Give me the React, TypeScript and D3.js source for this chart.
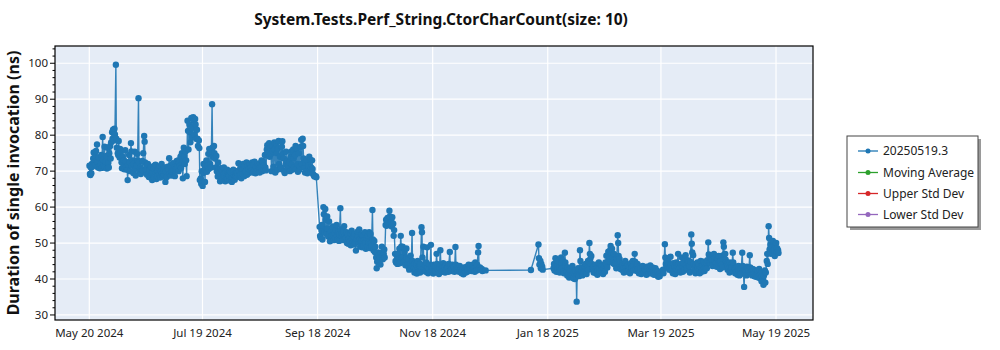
import React from "react";
import * as d3 from "d3";

const chartTitle = "System.Tests.Perf_String.CtorCharCount(size: 10)";
const yAxisLabel = "Duration of single invocation (ns)";
const legendLabels = ["20250519.3", "Moving Average", "Upper Std Dev", "Lower Std Dev"];
const legendColors = ["#1f77b4", "#2ca02c", "#d62728", "#9467bd"];
const xTickDates = ["2024-05-20", "2024-07-19", "2024-09-18", "2024-11-18", "2025-01-18", "2025-03-19", "2025-05-19"];
const yTickValues = [30, 40, 50, 60, 70, 80, 90, 100];
const yLimits = [28.6, 104.8];

// each entry: run date, durations (ns) of the runs recorded that day
const runs: [string, number[]][] = [
  ["2024-05-20", [71.5, 69.2, 68.9, 71.0]],
  ["2024-05-21", [69.4, 72.0, 71.2]],
  ["2024-05-22", [73.5, 75.2, 72.4]],
  ["2024-05-23", [74.0, 71.8, 75.6, 73.0]],
  ["2024-05-24", [77.4, 72.5, 71.0]],
  ["2024-05-25", [73.8, 71.2, 70.8]],
  ["2024-05-26", [72.0, 74.5, 70.9]],
  ["2024-05-27", [79.5, 73.2, 71.4]],
  ["2024-05-28", [76.8, 71.0, 72.6]],
  ["2024-05-29", [74.2, 70.7, 76.5]],
  ["2024-05-30", [72.3, 71.0, 75.0]],
  ["2024-05-31", [77.0, 73.5, 78.0]],
  ["2024-06-01", [80.8, 79.0, 81.5]],
  ["2024-06-02", [78.5, 81.8, 80.2]],
  ["2024-06-03", [99.6, 79.0, 76.5]],
  ["2024-06-04", [75.0, 74.5, 78.4]],
  ["2024-06-05", [73.8, 76.2, 75.0]],
  ["2024-06-06", [72.5, 70.8, 74.0]],
  ["2024-06-07", [71.0, 73.0, 70.5]],
  ["2024-06-08", [75.8, 72.6, 71.2]],
  ["2024-06-09", [70.4, 67.5, 71.8]],
  ["2024-06-10", [74.5, 72.4, 70.0]],
  ["2024-06-11", [77.8, 75.5, 71.5]],
  ["2024-06-12", [73.0, 69.5, 72.0]],
  ["2024-06-13", [75.4, 70.7, 68.8]],
  ["2024-06-14", [71.5, 74.8, 73.0]],
  ["2024-06-15", [90.3, 72.5, 70.0]],
  ["2024-06-16", [71.0, 69.2, 70.5]],
  ["2024-06-17", [72.8, 70.2, 75.0]],
  ["2024-06-18", [79.8, 78.2, 72.4]],
  ["2024-06-19", [70.4, 71.5, 69.0]],
  ["2024-06-20", [72.0, 69.3, 68.4]],
  ["2024-06-21", [70.5, 68.2, 71.2]],
  ["2024-06-22", [69.5, 67.5, 70.0]],
  ["2024-06-23", [70.8, 68.0, 71.5]],
  ["2024-06-24", [71.8, 69.4, 67.8]],
  ["2024-06-25", [68.6, 70.2, 71.0]],
  ["2024-06-26", [69.0, 71.4, 68.2]],
  ["2024-06-27", [70.0, 72.0, 69.5]],
  ["2024-06-28", [68.5, 70.6, 69.0]],
  ["2024-06-29", [71.0, 67.0, 69.8]],
  ["2024-06-30", [68.4, 70.0, 71.2]],
  ["2024-07-01", [70.5, 73.6, 69.2]],
  ["2024-07-02", [71.5, 68.8, 70.0]],
  ["2024-07-03", [69.8, 72.2, 70.4]],
  ["2024-07-04", [71.0, 68.6, 70.2]],
  ["2024-07-05", [70.6, 72.8, 71.2]],
  ["2024-07-06", [73.0, 70.0, 72.4]],
  ["2024-07-07", [71.5, 74.0, 70.8]],
  ["2024-07-08", [75.0, 72.5, 68.0]],
  ["2024-07-09", [76.5, 74.2, 72.0]],
  ["2024-07-10", [75.5, 73.0, 68.6]],
  ["2024-07-11", [84.0, 81.2, 76.0]],
  ["2024-07-12", [83.0, 80.8, 78.0]],
  ["2024-07-13", [84.8, 82.0, 79.5]],
  ["2024-07-14", [85.0, 84.2, 80.2]],
  ["2024-07-15", [84.5, 83.0, 79.0]],
  ["2024-07-16", [81.5, 79.0, 77.0]],
  ["2024-07-17", [78.5, 76.4, 67.5]],
  ["2024-07-18", [68.0, 66.5, 70.0]],
  ["2024-07-19", [65.9, 69.5, 72.0]],
  ["2024-07-20", [70.5, 67.0, 71.8]],
  ["2024-07-21", [73.0, 69.8, 71.5]],
  ["2024-07-22", [74.8, 70.6, 76.2]],
  ["2024-07-23", [72.0, 75.5, 71.0]],
  ["2024-07-24", [88.6, 76.5, 74.0]],
  ["2024-07-25", [77.0, 75.0, 73.5]],
  ["2024-07-26", [71.0, 74.2, 70.0]],
  ["2024-07-27", [68.5, 72.4, 70.6]],
  ["2024-07-28", [69.5, 67.2, 70.8]],
  ["2024-07-29", [68.0, 70.2, 67.5]],
  ["2024-07-30", [69.0, 71.0, 68.4]],
  ["2024-07-31", [67.2, 69.5, 68.0]],
  ["2024-08-01", [70.4, 68.0, 69.2]],
  ["2024-08-02", [68.8, 67.4, 70.0]],
  ["2024-08-03", [69.6, 68.0, 67.0]],
  ["2024-08-04", [68.2, 70.4, 69.0]],
  ["2024-08-05", [67.6, 69.0, 68.5]],
  ["2024-08-06", [70.0, 68.4, 69.5]],
  ["2024-08-07", [72.2, 70.2, 68.6]],
  ["2024-08-08", [69.0, 71.0, 68.0]],
  ["2024-08-09", [70.4, 69.2, 72.0]],
  ["2024-08-10", [68.6, 71.2, 69.8]],
  ["2024-08-11", [70.0, 72.4, 69.0]],
  ["2024-08-12", [71.5, 69.4, 70.6]],
  ["2024-08-13", [72.0, 69.8, 71.0]],
  ["2024-08-14", [70.2, 72.4, 69.6]],
  ["2024-08-15", [71.8, 70.0, 72.6]],
  ["2024-08-16", [69.4, 71.2, 70.0]],
  ["2024-08-17", [72.0, 70.4, 71.5]],
  ["2024-08-18", [70.8, 69.6, 72.2]],
  ["2024-08-19", [71.0, 73.0, 70.0]],
  ["2024-08-20", [72.5, 70.5, 71.6]],
  ["2024-08-21", [74.5, 71.0, 70.2]],
  ["2024-08-22", [76.0, 77.2, 75.0]],
  ["2024-08-23", [75.2, 77.8, 74.0]],
  ["2024-08-24", [76.4, 74.8, 70.0]],
  ["2024-08-25", [77.0, 75.5, 71.2]],
  ["2024-08-26", [78.0, 76.0, 69.6]],
  ["2024-08-27", [77.5, 75.0, 70.4]],
  ["2024-08-28", [76.2, 78.4, 72.0]],
  ["2024-08-29", [74.0, 70.6, 71.0]],
  ["2024-08-30", [76.8, 78.3, 75.0]],
  ["2024-08-31", [73.5, 70.0, 69.5]],
  ["2024-09-01", [72.0, 75.4, 70.2]],
  ["2024-09-02", [73.0, 70.8, 71.5]],
  ["2024-09-03", [72.4, 70.0, 74.0]],
  ["2024-09-04", [75.5, 71.8, 70.4]],
  ["2024-09-05", [76.0, 73.5, 71.0]],
  ["2024-09-06", [74.5, 77.0, 70.6]],
  ["2024-09-07", [76.2, 72.0, 69.8]],
  ["2024-09-08", [75.0, 70.4, 71.2]],
  ["2024-09-09", [76.8, 78.7, 72.0]],
  ["2024-09-10", [79.0, 77.0, 73.5]],
  ["2024-09-11", [71.0, 69.6, 72.4]],
  ["2024-09-12", [70.0, 73.0, 69.4]],
  ["2024-09-13", [71.6, 69.8, 74.0]],
  ["2024-09-14", [73.2, 70.0, 71.0]],
  ["2024-09-15", [73.0, 70.6, 69.2]],
  ["2024-09-16", [68.8, 68.5]],
  ["2024-09-17", [68.6, 68.3]],
  ["2024-09-19", [54.5, 52.0, 51.5]],
  ["2024-09-20", [53.5, 55.0, 51.0]],
  ["2024-09-21", [60.0, 58.0, 53.0]],
  ["2024-09-22", [59.5, 56.5, 52.5, 54.0]],
  ["2024-09-23", [57.4, 54.0, 51.8]],
  ["2024-09-24", [56.0, 52.6, 50.5]],
  ["2024-09-25", [53.2, 51.0, 52.0]],
  ["2024-09-26", [54.6, 52.2, 50.8]],
  ["2024-09-27", [52.8, 51.4, 53.6]],
  ["2024-09-28", [55.0, 52.0, 51.0]],
  ["2024-09-29", [53.0, 50.6, 52.4]],
  ["2024-09-30", [59.7, 53.8, 52.0]],
  ["2024-10-01", [52.6, 50.8, 53.2]],
  ["2024-10-02", [54.7, 52.0, 51.2]],
  ["2024-10-03", [51.5, 53.0, 50.0]],
  ["2024-10-04", [52.4, 49.8, 51.0]],
  ["2024-10-05", [50.5, 52.8, 49.4]],
  ["2024-10-06", [53.4, 51.0, 50.2]],
  ["2024-10-07", [51.8, 49.6, 52.5]],
  ["2024-10-08", [50.0, 47.9, 51.2]],
  ["2024-10-09", [52.0, 53.2, 50.4]],
  ["2024-10-10", [53.8, 51.0, 49.0]],
  ["2024-10-11", [50.6, 52.4, 48.8]],
  ["2024-10-12", [52.0, 49.2, 50.8]],
  ["2024-10-13", [53.0, 50.0, 48.4]],
  ["2024-10-14", [51.4, 49.0, 52.0]],
  ["2024-10-15", [50.2, 53.0, 48.6]],
  ["2024-10-16", [52.5, 50.0, 49.2]],
  ["2024-10-17", [59.2, 51.0, 48.0]],
  ["2024-10-18", [50.6, 47.5, 49.0]],
  ["2024-10-19", [46.0, 43.0, 44.8]],
  ["2024-10-20", [47.4, 45.2, 46.6]],
  ["2024-10-21", [46.0, 44.0, 47.2]],
  ["2024-10-22", [49.0, 46.6, 45.5]],
  ["2024-10-23", [47.0, 48.2, 46.0]],
  ["2024-10-24", [55.0, 56.5, 54.8]],
  ["2024-10-25", [57.0, 55.5, 56.2]],
  ["2024-10-26", [59.0, 57.4, 55.8]],
  ["2024-10-27", [56.0, 54.6, 57.2]],
  ["2024-10-28", [55.4, 52.0, 53.6]],
  ["2024-10-29", [47.0, 45.0, 44.6]],
  ["2024-10-30", [46.4, 44.2, 47.0]],
  ["2024-10-31", [45.6, 48.4, 44.4]],
  ["2024-11-01", [52.0, 49.0, 46.0]],
  ["2024-11-02", [49.0, 46.2, 44.6]],
  ["2024-11-03", [47.5, 45.0, 43.8]],
  ["2024-11-04", [48.5, 46.0, 44.0]],
  ["2024-11-05", [45.5, 43.2, 42.6]],
  ["2024-11-06", [44.2, 46.5, 43.0]],
  ["2024-11-07", [52.8, 45.0, 43.6]],
  ["2024-11-08", [43.0, 41.8, 44.4]],
  ["2024-11-09", [42.6, 44.0, 41.5]],
  ["2024-11-10", [45.0, 43.0, 42.2]],
  ["2024-11-11", [43.6, 41.8, 44.2]],
  ["2024-11-12", [54.4, 53.0, 46.0]],
  ["2024-11-13", [49.0, 43.0, 42.4]],
  ["2024-11-14", [43.8, 42.0, 44.6]],
  ["2024-11-15", [48.8, 43.2, 41.6]],
  ["2024-11-16", [42.8, 44.0, 42.0]],
  ["2024-11-17", [49.5, 43.4, 42.2]],
  ["2024-11-18", [43.0, 41.5, 44.0]],
  ["2024-11-19", [42.4, 43.6, 42.0]],
  ["2024-11-20", [47.0, 44.2, 43.0]],
  ["2024-11-21", [42.6, 41.4, 43.2]],
  ["2024-11-22", [48.0, 44.0, 42.4]],
  ["2024-11-23", [43.6, 42.0, 44.4]],
  ["2024-11-24", [42.2, 43.4, 41.8]],
  ["2024-11-25", [44.0, 42.6, 43.0]],
  ["2024-11-26", [43.2, 42.0, 44.2]],
  ["2024-11-27", [47.5, 43.6, 42.4]],
  ["2024-11-28", [43.0, 42.2, 44.0]],
  ["2024-11-29", [42.6, 43.4, 42.0]],
  ["2024-11-30", [48.9, 44.0, 42.8]],
  ["2024-12-01", [43.4, 42.2, 43.0]],
  ["2024-12-02", [42.0, 43.6, 42.6]],
  ["2024-12-03", [43.0, 41.6, 42.4]],
  ["2024-12-04", [42.8, 41.3, 43.2]],
  ["2024-12-05", [42.2, 43.0, 41.8]],
  ["2024-12-06", [43.4, 42.0, 42.6]],
  ["2024-12-07", [44.0, 42.4, 43.0]],
  ["2024-12-08", [42.6, 43.8, 42.2]],
  ["2024-12-09", [44.0, 42.8, 43.4]],
  ["2024-12-10", [43.0, 42.0, 44.6]],
  ["2024-12-11", [43.0, 42.4, 44.0]],
  ["2024-12-12", [47.4, 49.2, 43.0]],
  ["2024-12-13", [43.2, 42.6]],
  ["2024-12-14", [42.8, 42.2]],
  ["2024-12-16", [42.4]],
  ["2025-01-09", [42.5]],
  ["2025-01-13", [49.6, 45.8, 44.0]],
  ["2025-01-14", [45.0, 43.0, 44.2]],
  ["2025-01-15", [43.4, 42.6]],
  ["2025-01-21", [43.0, 44.2, 42.4]],
  ["2025-01-22", [45.8, 43.6, 42.0]],
  ["2025-01-23", [44.0, 42.8, 45.0]],
  ["2025-01-24", [43.2, 41.8, 42.6]],
  ["2025-01-25", [46.0, 44.4, 43.0]],
  ["2025-01-26", [45.0, 42.2, 41.6]],
  ["2025-01-27", [47.3, 44.6, 43.4]],
  ["2025-01-28", [42.0, 41.0, 43.2]],
  ["2025-01-29", [41.4, 40.4, 42.6]],
  ["2025-01-30", [42.2, 40.8, 41.2]],
  ["2025-01-31", [43.6, 41.0, 40.2]],
  ["2025-02-01", [41.6, 40.0, 42.4]],
  ["2025-02-02", [40.6, 33.7, 41.4]],
  ["2025-02-03", [43.0, 41.2, 40.8]],
  ["2025-02-04", [48.0, 45.0, 42.0]],
  ["2025-02-05", [42.4, 41.0, 43.2]],
  ["2025-02-06", [41.8, 43.6, 42.2]],
  ["2025-02-07", [44.2, 42.0, 41.4]],
  ["2025-02-08", [43.0, 45.0, 42.6]],
  ["2025-02-09", [50.0, 47.0, 45.6]],
  ["2025-02-10", [46.4, 44.2, 42.8]],
  ["2025-02-11", [43.4, 41.8, 42.6]],
  ["2025-02-12", [42.2, 44.0, 41.6]],
  ["2025-02-13", [43.0, 41.2, 42.4]],
  ["2025-02-14", [44.6, 42.8, 41.8]],
  ["2025-02-15", [44.0, 42.2, 43.6]],
  ["2025-02-16", [42.6, 41.4, 43.0]],
  ["2025-02-17", [43.8, 42.0, 44.6]],
  ["2025-02-18", [46.5, 44.0, 43.2]],
  ["2025-02-19", [47.6, 45.0, 46.2]],
  ["2025-02-20", [48.0, 49.2, 46.6]],
  ["2025-02-21", [48.4, 46.0, 44.4]],
  ["2025-02-22", [47.0, 45.2, 44.0]],
  ["2025-02-23", [44.6, 43.0, 45.8]],
  ["2025-02-24", [52.2, 50.0, 46.4]],
  ["2025-02-25", [45.6, 43.6, 42.8]],
  ["2025-02-26", [44.2, 42.6, 43.8]],
  ["2025-02-27", [43.0, 41.8, 44.4]],
  ["2025-02-28", [45.0, 43.2, 42.2]],
  ["2025-03-01", [43.6, 42.0, 44.0]],
  ["2025-03-02", [42.6, 43.4, 41.6]],
  ["2025-03-03", [44.4, 42.8, 43.2]],
  ["2025-03-04", [45.0, 43.6, 42.4]],
  ["2025-03-05", [47.0, 44.8, 43.0]],
  ["2025-03-06", [43.8, 42.2, 44.2]],
  ["2025-03-07", [42.8, 41.6, 43.4]],
  ["2025-03-08", [43.0, 42.0, 41.4]],
  ["2025-03-09", [42.4, 43.6, 42.0]],
  ["2025-03-10", [41.8, 43.0, 42.6]],
  ["2025-03-11", [42.2, 41.2, 43.4]],
  ["2025-03-12", [43.0, 42.0, 41.6]],
  ["2025-03-13", [42.6, 43.8, 42.0]],
  ["2025-03-14", [41.5, 42.8, 43.2]],
  ["2025-03-15", [42.0, 41.2, 42.6]],
  ["2025-03-16", [43.0, 41.8, 42.4]],
  ["2025-03-17", [41.0, 42.2, 40.6]],
  ["2025-03-18", [41.4, 40.8]],
  ["2025-03-20", [42.6, 41.6]],
  ["2025-03-21", [49.7, 46.0, 44.2]],
  ["2025-03-22", [45.6, 43.6, 44.8]],
  ["2025-03-23", [44.0, 42.6, 43.2]],
  ["2025-03-24", [46.2, 43.8, 42.4]],
  ["2025-03-25", [43.0, 41.6, 44.4]],
  ["2025-03-26", [42.2, 43.4, 41.4]],
  ["2025-03-27", [44.6, 42.6, 43.6]],
  ["2025-03-28", [47.0, 44.0, 42.8]],
  ["2025-03-29", [43.2, 41.8, 44.2]],
  ["2025-03-30", [46.0, 43.6, 42.0]],
  ["2025-03-31", [44.4, 42.4, 45.6]],
  ["2025-04-01", [46.6, 44.0, 43.0]],
  ["2025-04-02", [45.2, 42.8, 44.6]],
  ["2025-04-03", [43.6, 41.8, 44.8]],
  ["2025-04-04", [52.4, 49.8, 47.4]],
  ["2025-04-05", [46.6, 44.2, 42.6]],
  ["2025-04-06", [43.0, 41.6, 44.0]],
  ["2025-04-07", [42.4, 44.6, 43.2]],
  ["2025-04-08", [44.0, 42.2, 41.6]],
  ["2025-04-09", [45.0, 43.4, 42.0]],
  ["2025-04-10", [43.8, 42.6, 44.8]],
  ["2025-04-11", [42.2, 44.2, 43.0]],
  ["2025-04-12", [44.6, 43.0, 45.2]],
  ["2025-04-13", [50.2, 46.8, 44.4]],
  ["2025-04-14", [46.0, 44.4, 45.4]],
  ["2025-04-15", [45.4, 43.6, 46.6]],
  ["2025-04-16", [47.0, 44.8, 45.8]],
  ["2025-04-17", [44.4, 46.0, 43.4]],
  ["2025-04-18", [45.8, 44.2, 46.4]],
  ["2025-04-19", [44.6, 42.8, 45.0]],
  ["2025-04-20", [46.4, 44.0, 43.2]],
  ["2025-04-21", [50.2, 49.0, 46.8]],
  ["2025-04-22", [47.0, 45.4, 44.6]],
  ["2025-04-23", [44.2, 42.6, 43.6]],
  ["2025-04-24", [43.0, 41.8, 44.6]],
  ["2025-04-25", [42.4, 44.0, 43.2]],
  ["2025-04-26", [47.3, 44.6, 42.2]],
  ["2025-04-27", [43.0, 41.6, 42.6]],
  ["2025-04-28", [42.0, 43.4, 41.2]],
  ["2025-04-29", [43.6, 42.2, 41.0]],
  ["2025-04-30", [42.8, 41.4, 43.0]],
  ["2025-05-01", [47.3, 43.6, 42.4]],
  ["2025-05-02", [37.8, 41.8, 42.6]],
  ["2025-05-03", [42.2, 41.0, 43.4]],
  ["2025-05-04", [43.0, 41.6, 42.4]],
  ["2025-05-05", [46.6, 43.2, 41.8]],
  ["2025-05-06", [42.4, 41.0, 42.8]],
  ["2025-05-07", [41.6, 42.6, 40.8]],
  ["2025-05-08", [42.0, 40.6, 41.4]],
  ["2025-05-09", [41.2, 42.4, 40.4]],
  ["2025-05-10", [42.8, 41.0, 40.2]],
  ["2025-05-11", [41.6, 39.4, 40.8]],
  ["2025-05-12", [40.0, 38.4, 41.0]],
  ["2025-05-13", [42.4, 39.0, 41.8]],
  ["2025-05-14", [45.0, 47.0, 44.2]],
  ["2025-05-15", [54.7, 51.4, 48.2]],
  ["2025-05-16", [49.6, 47.0, 48.8]],
  ["2025-05-17", [47.4, 50.6, 48.0]],
  ["2025-05-18", [48.2, 46.4, 49.4]],
  ["2025-05-19", [50.0, 47.6, 48.6]],
  ["2025-05-20", [48.0, 47.2]],
];

const W = 1000;
const H = 350;
const plot = { left: 55, right: 813, top: 46, bottom: 320 };
const blue = "#1f77b4";
const fontFamily = "'Noto Sans', 'Open Sans', sans-serif";

const parseDay = d3.timeParse("%Y-%m-%d");
const fmtTick = d3.timeFormat("%b %d %Y");

type Pt = { t: Date; v: number };

export default function App() {
  const points: Pt[] = [];
  runs.forEach(([day, vals]) => {
    const base = parseDay(day) as Date;
    vals.forEach((v, i) => {
      points.push({ t: d3.timeHour.offset(base, 2 + i * 6), v });
    });
  });

  const [tMin, tMax] = d3.extent(points, (p) => p.t) as [Date, Date];
  const span = tMax.getTime() - tMin.getTime();
  const x = d3
    .scaleTime()
    .domain([new Date(tMin.getTime() - span * 0.05), new Date(tMax.getTime() + span * 0.05)])
    .range([plot.left, plot.right]);
  const y = d3.scaleLinear().domain(yLimits).range([plot.bottom, plot.top]);

  const line = d3
    .line<Pt>()
    .x((p) => x(p.t))
    .y((p) => y(p.v));

  const xTicks = xTickDates.map((s) => parseDay(s) as Date);
  const minorTicks = d3.range(30, 105, 2).filter((v) => v % 10 !== 0 && v >= yLimits[0] && v <= yLimits[1]);

  const legend = { x: 847, y: 136, w: 131, h: 91 };
  const rowY = [151, 172.5, 193.5, 214.5];

  return (
    <svg width={W} height={H} style={{ position: "absolute", left: 0, top: 0 }} fontFamily={fontFamily}>
      <rect x={0} y={0} width={W} height={H} fill="#ffffff" />
      <text x={441} y={24.5} textAnchor="middle" fontSize={15.5} fontWeight="bold" fill="#111">
        {chartTitle}
      </text>
      <rect x={plot.left} y={plot.top} width={plot.right - plot.left} height={plot.bottom - plot.top} fill="#e5ecf6" />
      <g stroke="#ffffff" strokeWidth={1.2}>
        {yTickValues.map((v) => (
          <line key={"gy" + v} x1={plot.left} x2={plot.right} y1={y(v)} y2={y(v)} />
        ))}
        {xTicks.map((d, i) => (
          <line key={"gx" + i} x1={x(d)} x2={x(d)} y1={plot.top} y2={plot.bottom} />
        ))}
      </g>
      <defs>
        <clipPath id="plotclip">
          <rect x={plot.left} y={plot.top} width={plot.right - plot.left} height={plot.bottom - plot.top} />
        </clipPath>
      </defs>
      <g clipPath="url(#plotclip)">
        <path d={line(points) || ""} fill="none" stroke={blue} strokeWidth={1.4} strokeOpacity={0.9} />
        {points.map((p, i) => (
          <circle key={i} cx={x(p.t)} cy={y(p.v)} r={3.2} fill={blue} />
        ))}
      </g>
      <rect
        x={plot.left}
        y={plot.top}
        width={plot.right - plot.left}
        height={plot.bottom - plot.top}
        fill="none"
        stroke="#000"
        strokeWidth={1.2}
      />
      <g fontSize={11.5} fill="#222">
        {yTickValues.map((v) => (
          <g key={"ty" + v}>
            <line x1={plot.left - 5} x2={plot.left} y1={y(v)} y2={y(v)} stroke="#000" strokeWidth={1} />
            <text x={plot.left - 7} y={y(v)} dy="0.35em" textAnchor="end">
              {v}
            </text>
          </g>
        ))}
        {minorTicks.map((v) => (
          <line key={"my" + v} x1={plot.left - 2.5} x2={plot.left} y1={y(v)} y2={y(v)} stroke="#000" strokeWidth={1} />
        ))}
        {xTicks.map((d, i) => (
          <text key={"tx" + i} x={x(d)} y={337} textAnchor="middle">
            {fmtTick(d)}
          </text>
        ))}
      </g>
      <text
        transform={`translate(19, ${(plot.top + plot.bottom) / 2}) rotate(-90)`}
        textAnchor="middle"
        fontSize={16}
        fontWeight="bold"
        fill="#111"
      >
        {yAxisLabel}
      </text>
      <g>
        <rect x={legend.x + 3} y={legend.y + 3} width={legend.w} height={legend.h} fill="#9a9a9a" />
        <rect x={legend.x} y={legend.y} width={legend.w} height={legend.h} fill="#ffffff" stroke="#444" strokeWidth={1} />
        {legendLabels.map((lab, i) => (
          <g key={lab}>
            <line x1={858} x2={878} y1={rowY[i]} y2={rowY[i]} stroke={legendColors[i]} strokeWidth={1.3} />
            <circle cx={868} cy={rowY[i]} r={2.5} fill={legendColors[i]} />
            <text x={883} y={rowY[i]} dy="0.35em" fontSize={12} fill="#222">
              {lab}
            </text>
          </g>
        ))}
      </g>
    </svg>
  );
}
